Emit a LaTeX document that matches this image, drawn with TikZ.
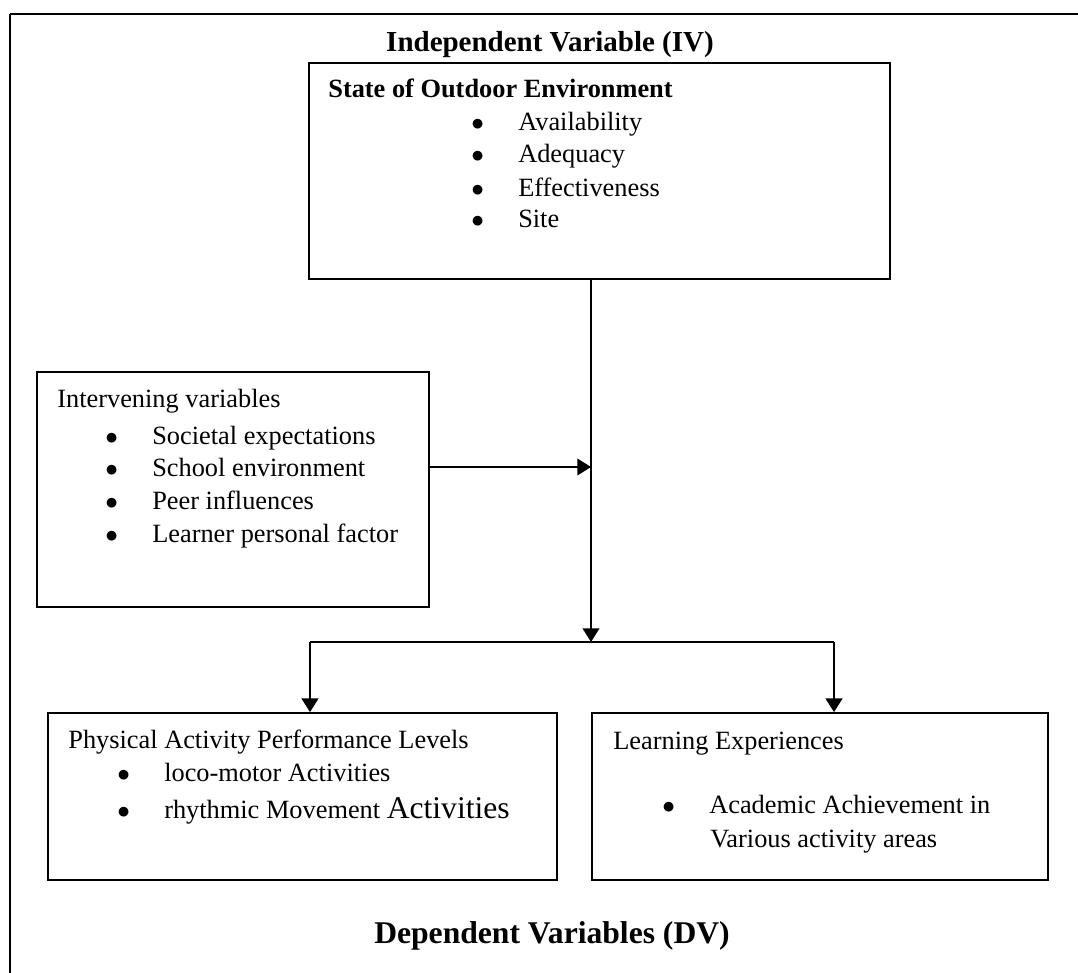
\documentclass[tikz,border=0pt]{standalone}
\usepackage{fontspec}
\setmainfont{Liberation Serif}
\usepackage{tikz}
\usetikzlibrary{arrows.meta, positioning}

\newcommand{\bul}{\makebox[26.7pt][l]{$\bullet$}}

\begin{document}
\begin{tikzpicture}[
  x=0.02cm, y=-0.02cm,
  box/.style={rectangle, draw, line width=1pt, inner sep=0pt},
  txt/.style={inner sep=0pt, anchor=base west, font=\fontsize{15}{18.5}\selectfont},
  btxt/.style={txt, font=\fontsize{15}{18.5}\selectfont\bfseries},
  ttl/.style={inner sep=0pt, anchor=base, font=\fontsize{16.5}{20}\selectfont\bfseries},
  arr/.style={-{Triangle[length=7.8pt, width=9.5pt]}, line width=1.1pt},
  ln/.style={line width=1.1pt},
]
\useasboundingbox (0,0) rectangle (1078,973);

%% outer frame (runs off the page at right and bottom)
\draw[line width=1.1pt] (10,973) -- (10,14);
\draw[line width=1.7pt] (9.5,14) -- (1078,14);

%% ---- Independent variable ----
\node[ttl] (ivtitle) at (550,52) {Independent Variable (IV)};
\node[box, minimum width=11.62cm, minimum height=4.32cm] (iv) at (599.5,171) {};
\node[btxt] (ivhead) at (328,98) {State of Outdoor Environment};
\node[txt] (iva) at (471,131) {\bul Availability};
\node[txt] (ivb) at (471,163) {\bul Adequacy};
\node[txt] (ivc) at (471,196) {\bul Effectiveness};
\node[txt] (ivd) at (471,228) {\bul Site};

%% ---- Intervening variables ----
\node[box, minimum width=7.84cm, minimum height=4.70cm] (int) at (233,489.5) {};
\node[txt] (inthead) at (57,407) {Intervening variables};
\node[txt] (inta) at (105,444) {\bul Societal expectations};
\node[txt] (intb) at (105,476) {\bul School environment};
\node[txt] (intc) at (105,509) {\bul Peer influences};
\node[txt] (intd) at (105,542) {\bul Learner personal factor};

%% ---- Dependent variables ----
\node[box, minimum width=10.18cm, minimum height=3.34cm] (pa) at (302.5,796.5) {};
\node[txt] (pahead) at (68,748) {Physical Activity Performance Levels};
\node[txt] (paa) at (117,781) {\bul loco-motor Activities};
\node[txt] (pab) at (117,818) {\bul rhythmic Movement {\fontsize{18}{18}\selectfont Activities}};

\node[box, minimum width=9.12cm, minimum height=3.34cm] (le) at (820,796.5) {};
\node[txt] (lehead) at (613,749) {Learning Experiences};
\node[txt] (lea) at (662,813) {\bul Academic Achievement in};
\node[txt] (leb) at (710,847) {Various activity areas};

\node[ttl, font=\fontsize{18}{22}\selectfont\bfseries] (dvtitle) at (552,943) {Dependent Variables (DV)};

%% ---- connectors ----
\coordinate (split) at (591,642);
\coordinate (meet) at (591,467);
\coordinate (lsplit) at (310,642);
\coordinate (rsplit) at (834,642);
\draw[arr] (iv.south -| split) -- (split);
\draw[arr] (int.east |- meet) -- (meet);
\draw[ln] (lsplit) -- (rsplit);
\draw[arr] (lsplit) -- (pa.north -| lsplit);
\draw[arr] (rsplit) -- (le.north -| rsplit);

\end{tikzpicture}
\end{document}
